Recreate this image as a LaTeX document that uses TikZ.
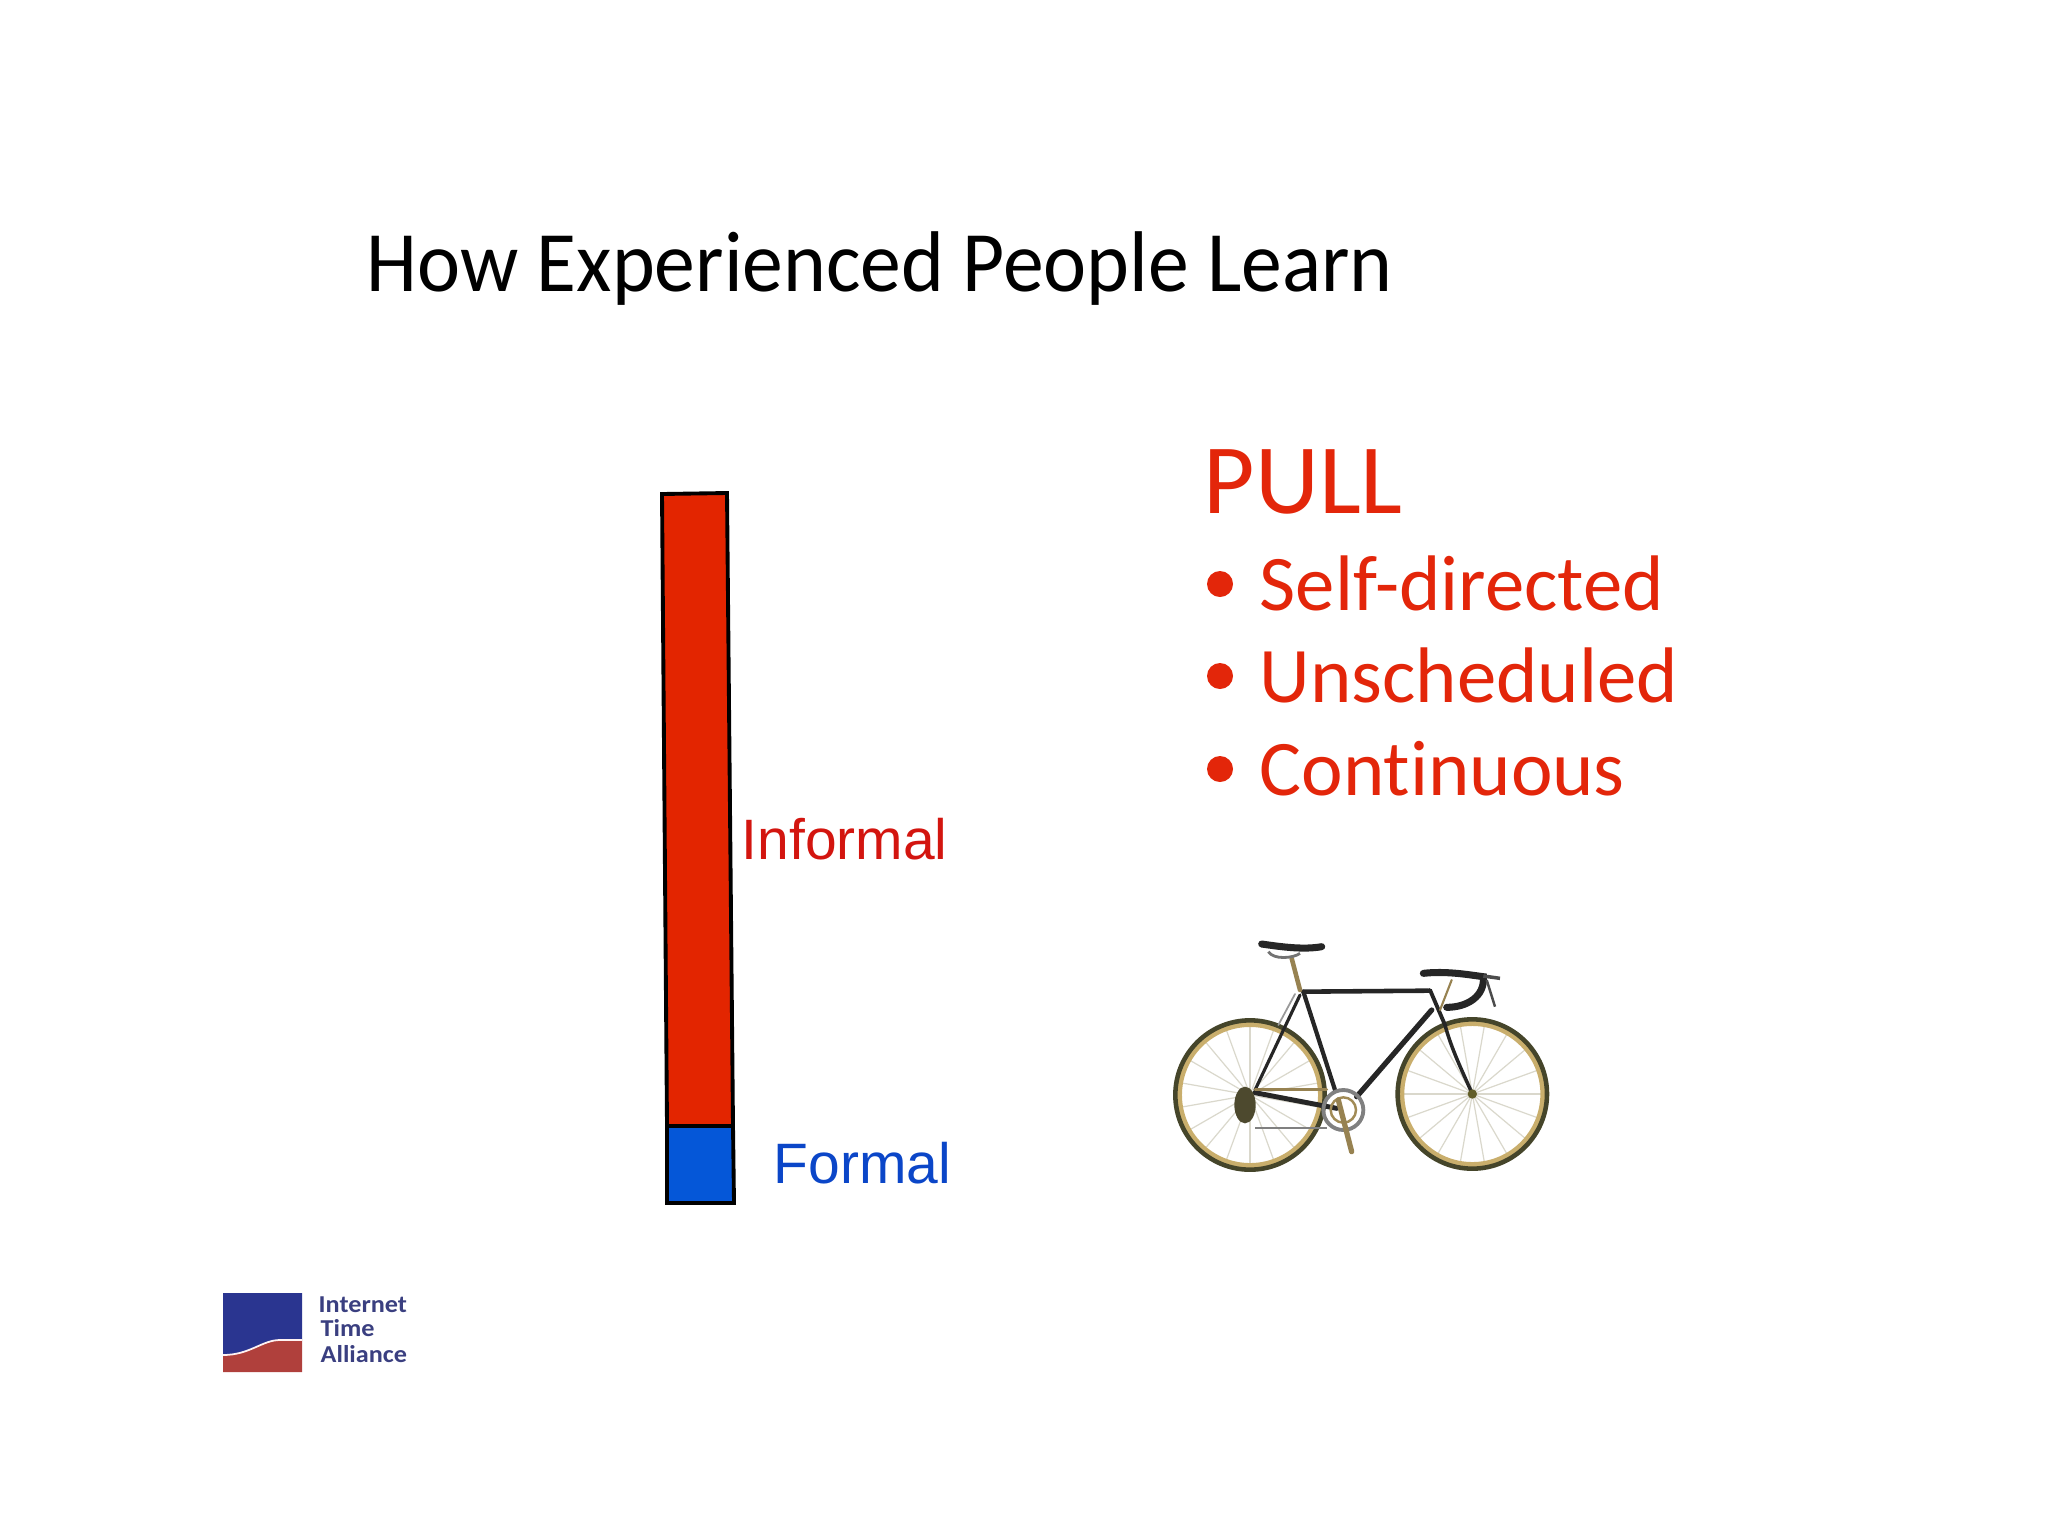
\documentclass[tikz,border=0pt]{standalone}
\usepackage{fontspec}
\setmainfont[Ligatures=NoCommon]{Carlito}
\newfontfamily\titlefont[Ligatures=NoCommon,FakeStretch=0.947]{Carlito}
\newfontfamily\logofont[FakeStretch=1.08]{Carlito}
\newfontfamily\arialfont{Liberation Sans}
\usetikzlibrary{positioning}
\definecolor{pullred}{HTML}{E3260A}
\definecolor{barred}{HTML}{E32500}
\definecolor{barblue}{HTML}{0557D8}
\definecolor{inflabel}{HTML}{D3150F}
\definecolor{forlabel}{HTML}{0B46C8}
\definecolor{logoblue}{HTML}{2A3590}
\definecolor{logored}{HTML}{B0403C}
\definecolor{logotext}{HTML}{3A3F80}
\definecolor{rimgold}{HTML}{C9AE6C}
\definecolor{tyredark}{HTML}{45452A}
\definecolor{spokegray}{HTML}{DAD8CC}
\tikzstyle{txt}=[anchor=base west, inner sep=0]
\tikzstyle{titletxt}=[txt, font=\titlefont\fontsize{24.5}{28}\selectfont]
\tikzstyle{pulltxt}=[txt, text=pullred, font=\fontsize{28.3}{32}\selectfont]
\tikzstyle{listtxt}=[txt, text=pullred, font=\fontsize{22.4}{26}\selectfont]
\tikzstyle{barlabel}=[txt, font=\arialfont\fontsize{16.2}{19}\selectfont]
\tikzstyle{logotxt}=[txt, text=logotext, font=\logofont\bfseries\fontsize{6.9}{8}\selectfont]
\tikzstyle{bar}=[draw=black, line width=1.1pt, line join=miter]
\tikzstyle{spoke}=[draw=spokegray, line width=0.35pt]
\tikzstyle{frame}=[draw=black!85, line width=0.9pt, line cap=round]
\tikzstyle{alloy}=[draw=rimgold!75!black, line width=1.1pt, line cap=round]
\begin{document}
\begin{tikzpicture}[x=0.01cm, y=-0.01cm]
        \useasboundingbox (0,0) rectangle (2048,1536);
        \node[titletxt] (title) at (366,291) {How Experienced People Learn};
        % bar
        \draw[bar, fill=barred] (662,494) -- (727,493) -- (733,1126) -- (667,1126) -- cycle;
        \draw[bar, fill=barblue] (667,1126) -- (733,1126) -- (734,1203) -- (667,1203) -- cycle;
        \node[barlabel, text=inflabel] (informal) at (741,859) {Informal};
        \node[barlabel, text=forlabel] (formal) at (773,1183) {Formal};
        % list
        \node[pulltxt] (pull) at (1203,513) {PULL};
        \foreach \name/\word/\ypos in {self/Self-directed/610, unsch/Unscheduled/702, cont/Continuous/795} {
            \node[listtxt] (\name) at (1259,\ypos) {\word};
            \fill[pullred] (1220,\ypos-26) circle (13);
        }
        % bicycle
        \begin{scope}[shift={(1130,900)}, x=0.01cm/3, y=-0.01cm/3]
            \foreach \cx/\cy/\start in {360/585/10, 1027/582/0} {
                \foreach \ang in {0,20,...,340}
                    \draw[spoke] (\cx,\cy) -- ++(\ang+\start:205);
                \draw[rimgold, line width=1.5pt] (\cx,\cy) circle (212);
                \draw[tyredark, line width=1.3pt] (\cx,\cy) circle (224);
            }
            % frame
            \draw[frame, line width=1.3pt] (520,275) -- (895,272);
            \draw[frame, line width=1.5pt] (905,330) -- (680,590);
            \draw[frame, line width=1.2pt] (520,275) -- (615,570);
            \draw[frame] (510,285) -- (375,570);
            \draw[frame, black!40, line width=0.5pt] (495,282) -- (445,375);
            \draw[frame, line width=1.4pt] (375,578) -- (620,625);
            \draw[alloy, line width=0.8pt] (375,568) -- (590,568);
            \draw[frame, line width=1.1pt] (900,270) -- (945,375);
            \draw[frame, line width=1pt] (945,375) .. controls (965,450) and (1000,520) .. (1027,582);
            \draw[alloy, line width=1.3pt] (510,270) -- (485,175);
            % saddle and bars
            \draw[black!85, line width=2pt, line cap=round] (395,132) .. controls (450,140) and (520,150) .. (575,140);
            \draw[black!55, line width=0.8pt] (415,155) .. controls (430,180) and (490,175) .. (510,160);
            \draw[black!85, line width=2pt, line cap=round] (880,220) .. controls (950,212) and (1020,225) .. (1060,230) .. controls (1065,290) and (1010,322) .. (950,322);
            \draw[black!70, line width=1pt] (1060,228) -- (1110,235);
            \draw[black!70, line width=0.7pt] (1070,240) -- (1095,320);
            \draw[alloy, line width=0.6pt] (965,240) -- (930,330);
            % drivetrain
            \draw[black!50, line width=1.1pt] (640,630) circle (60);
            \draw[rimgold!80!black, line width=0.7pt] (640,630) circle (38);
            \draw[alloy, line width=1.5pt] (625,600) -- (665,755);
            \fill[black!60!olive] (345,615) ellipse (32 and 55);
            \draw[black!50, line width=0.6pt] (375,685) -- (590,685);
            \fill[olive!60!black] (1027,582) circle (14);
        \end{scope}
        % logo
        \fill[logoblue] (223,1293) -- (302,1293) -- (302,1340) -- (280,1340) .. controls (262,1340) and (250,1355) .. (223,1355) -- cycle;
        \fill[logored] (223,1355) .. controls (250,1355) and (262,1340) .. (280,1340) -- (302,1340) -- (302,1372) -- (223,1372) -- cycle;
        \draw[white!80!pink, line width=0.5pt] (223,1355) .. controls (250,1355) and (262,1340) .. (280,1340) -- (302,1340);
        \node[logotxt] (internet) at (318,1312) {Internet};
        \node[logotxt] (timew) at (320,1336) {Time};
        \node[logotxt] (alliance) at (320,1362) {Alliance};
\end{tikzpicture}
\end{document}
